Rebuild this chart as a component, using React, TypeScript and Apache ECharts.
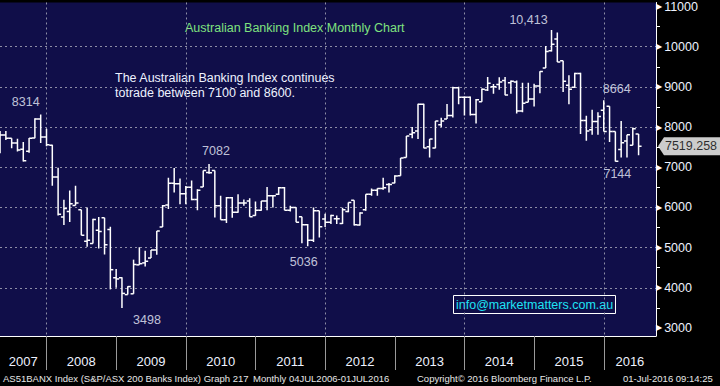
import React, { useEffect, useRef } from 'react';
import * as echarts from 'echarts';

// Months are counted from Jan 2007 (= 0); first bar is May 2007.
const FIRST_MONTH = 4;

const opens = [
  7850, 7800, 7720, 7600, 7450, 7400, 7730, 8200, 7750, 7550,
  6760, 5760, 5900, 6050, 5940, 5160, 5100, 5430, 5740, 5450,
  4250, 4250, 3830, 3850, 4570, 4620, 4740, 4940, 5510, 6060,
  6600, 6590, 6340, 6500, 6200, 6510, 6870, 6920, 6040, 5690,
  6240, 5880, 6110, 6160, 5800, 5930, 6160, 6290, 6330, 6490,
  5930, 6000, 5770, 5570, 5180, 5920, 5710, 5630, 5720, 5600,
  5900, 6180, 5560, 5940, 6330, 6430, 6470, 6570, 6610, 6790,
  7240, 7820, 7900, 8570, 7510, 7480, 8060, 8200, 8290, 8980,
  8740, 8740, 8310, 8630, 8920, 9000, 9060, 9160, 9100, 9120,
  8400, 8620, 8700, 9020, 9470, 9900, 10190, 9650, 9040, 8990,
  9330, 8160, 7930, 8140, 8420, 8520, 7890, 7440, 7650, 7550,
  7830,
];
const highs = [
  7900, 7900, 7720, 7710, 7630, 7730, 8220, 8314, 7960, 7560,
  6990, 6190, 6420, 6540, 5940, 6000, 5720, 5760, 5740, 5520,
  4470, 4260, 4040, 4700, 5010, 4920, 4940, 5410, 6060, 6740,
  6980, 6720, 6530, 6670, 6450, 6920, 7082, 6920, 6290, 6260,
  6260, 6330, 6200, 6230, 6150, 6160, 6510, 6310, 6510, 6510,
  6040, 6000, 5770, 5590, 6000, 5920, 5840, 5820, 5800, 5990,
  6125, 6180, 5880, 6330, 6470, 6480, 6740, 6610, 6800, 7230,
  7780, 8000, 8580, 8580, 7700, 8150, 8230, 8575, 9000, 9000,
  8760, 8760, 8700, 8960, 9245, 9070, 9240, 9245, 9160, 9160,
  9100, 9100, 9080, 9390, 10020, 10413, 10350, 9650, 9290, 9350,
  9350, 8280, 8430, 8370, 8664, 8520, 7890, 8150, 7810, 7990,
  7830,
];
const lows = [
  7350, 7680, 7470, 7390, 7140, 7360, 7720, 7600, 7520, 6540,
  5800, 5560, 5640, 6050, 5310, 5020, 5100, 4980, 4830, 3960,
  4000, 3498, 3830, 3850, 4570, 4530, 4740, 4820, 5510, 5960,
  6370, 6080, 6080, 6180, 5930, 6510, 6840, 5750, 5690, 5610,
  5740, 5870, 6040, 5770, 5790, 5920, 5930, 6000, 6310, 5930,
  5900, 5630, 5110, 5036, 5140, 5250, 5510, 5590, 5590, 5590,
  5880, 5550, 5550, 5920, 6290, 6290, 6440, 6370, 6600, 6790,
  7240, 7720, 7700, 7470, 7240, 7470, 8000, 8200, 8240, 8570,
  8290, 8290, 8090, 8630, 8900, 8830, 8930, 8790, 8830, 8340,
  8370, 8620, 8510, 8840, 9470, 9880, 9620, 8870, 8570, 8970,
  7830, 7660, 7810, 7810, 7890, 7630, 7144, 7240, 7240, 7550,
  7300,
];
const closes = [
  7800, 7720, 7600, 7430, 7160, 7720, 8200, 7750, 7560, 6760,
  5830, 5970, 6090, 6110, 5310, 5180, 5700, 5400, 5070, 4450,
  4220, 3860, 4030, 4580, 4600, 4660, 4940, 5410, 6040, 6600,
  6590, 6340, 6500, 6200, 6430, 6920, 6860, 6040, 5690, 6240,
  5880, 6110, 6110, 5770, 5930, 6160, 6290, 6290, 6490, 5930,
  6000, 5630, 5570, 5180, 5920, 5520, 5630, 5800, 5720, 5940,
  6120, 5570, 5860, 6330, 6430, 6470, 6490, 6570, 6780, 7230,
  7780, 7860, 8570, 7480, 7700, 8150, 8150, 8290, 8980, 8740,
  8740, 8310, 8680, 8940, 9090, 9000, 9120, 8800, 9140, 8400,
  8590, 8700, 9020, 9380, 9880, 10060, 9620, 9140, 8940, 9330,
  8160, 7900, 8140, 8260, 7890, 7890, 7150, 7610, 7810, 7960,
  7519.258,
];

// x axis (months since Jan 2007)
const X_MIN = 3.99;
const X_MAX = 117;
const yearStarts = [12, 24, 36, 48, 60, 72, 84, 96, 108];
const gridYearStarts = [12, 36, 60, 84, 108];
const yearLabels = ['2007', '2008', '2009', '2010', '2011', '2012', '2013', '2014', '2015', '2016'];
const yearLabelPos = [8, 18, 30, 42, 54, 66, 78, 90, 102, 112.5];

// y axis
const Y_MIN = 2800;
const Y_MAX = 11100;
const yMajor = [3000, 4000, 5000, 6000, 7000, 8000, 9000, 10000, 11000];
const yMinor = [3500, 4500, 5500, 6500, 7500, 8500, 9500, 10500];

// annotations of extremes
const annotText = ['8314', '7082', '5036', '3498', '10,413', '8664', '7144'];
const annotBar = [7, 36, 53, 21, 95, 104, 106];
const annotKind = ['high', 'high', 'low', 'low', 'high', 'high', 'low'];

const NAVY = '#100e49';
const FONT = '"Liberation Sans", Arial, sans-serif';
const TXT = '#eef2ff';

export default function App() {
  const ref = useRef<HTMLDivElement>(null);

  useEffect(() => {
    if (!ref.current) return;
    const chart = echarts.init(ref.current, undefined, { renderer: 'svg' });

    const ohlc = opens.map((o, i) => [FIRST_MONTH + i, o, highs[i], lows[i], closes[i]]);
    const annotOffsets: number[][] = [[-15, 0], [7, -1], [-4, 4], [25, 0], [-23, 2], [13, 1], [2, 1]];
    const annotData = annotBar.map((b, k) => ({
      value: [FIRST_MONTH + b, annotKind[k] === 'high' ? highs[b] : lows[b]],
      label: {
        show: true,
        position: annotKind[k] === 'high' ? 'top' : 'bottom',
        distance: 5,
        offset: annotOffsets[k],
        formatter: annotText[k],
      },
    }));
    const last = closes[closes.length - 1];

    const gridLine = { show: true, lineStyle: { color: '#8e8ea6', type: [2, 3], width: 1 } };

    chart.setOption({
      animation: false,
      backgroundColor: '#000',
      grid: { left: 0, top: 0, right: 64, bottom: 50, show: true, backgroundColor: NAVY, borderWidth: 0 },
      xAxis: [
        {
          type: 'value', min: X_MIN, max: X_MAX, position: 'bottom',
          axisLine: { show: true, lineStyle: { color: '#ffffff', width: 1 } },
          axisTick: { show: false, customValues: gridYearStarts },
          splitLine: gridLine,
          axisLabel: {
            show: true,
            customValues: yearLabelPos,
            margin: 19,
            color: TXT,
            fontSize: 13,
            fontFamily: FONT,
            formatter: (v: number) => {
              let best = 0;
              yearLabelPos.forEach((p, i) => { if (Math.abs(p - v) < Math.abs(yearLabelPos[best] - v)) best = i; });
              return yearLabels[best];
            },
          },
        },
        {
          type: 'value', min: X_MIN, max: X_MAX, position: 'bottom',
          axisLine: { show: false },
          axisTick: { show: true, customValues: yearStarts, length: 34, lineStyle: { color: '#9a9a9a', width: 1 } },
          axisLabel: { show: false },
          splitLine: { show: false },
        },
      ],
      yAxis: [
        {
          type: 'value', min: Y_MIN, max: Y_MAX, position: 'right',
          axisLine: { show: true, lineStyle: { color: '#ffffff', width: 1 } },
          axisTick: { show: false, customValues: yMajor },
          splitLine: { ...gridLine, showMinLine: false, showMaxLine: false },
          axisLabel: {
            show: true,
            customValues: yMajor,
            margin: 0,
            formatter: (v: number) => `{t|▶}{v|${v}}`,
            rich: {
              t: { fontSize: 8, color: '#ffffff', fontFamily: '"DejaVu Sans"', padding: [0, 2, 0, 0] },
              v: { fontSize: 12.5, color: TXT, fontFamily: FONT },
            },
          },
        },
        {
          type: 'value', min: Y_MIN, max: Y_MAX, position: 'right',
          axisLine: { show: false },
          axisTick: { show: true, customValues: yMinor, length: 4, lineStyle: { color: '#ffffff', width: 1 } },
          axisLabel: { show: false },
          splitLine: { show: false },
        },
      ],
      series: [
        {
          type: 'custom',
          xAxisIndex: 0,
          yAxisIndex: 0,
          clip: true,
          encode: { x: 0, y: [1, 2, 3, 4] },
          data: ohlc,
          renderItem: (_params: any, api: any) => {
            const x = api.value(0);
            const pO = api.coord([x, api.value(1)]);
            const pH = api.coord([x, api.value(2)]);
            const pL = api.coord([x, api.value(3)]);
            const pC = api.coord([x, api.value(4)]);
            const tick = 3;
            const st = { stroke: '#ffffff', lineWidth: 1.5 };
            return {
              type: 'group',
              children: [
                { type: 'line', shape: { x1: pH[0], y1: pH[1], x2: pL[0], y2: pL[1] }, style: st },
                { type: 'line', shape: { x1: pO[0] - tick, y1: pO[1], x2: pO[0], y2: pO[1] }, style: st },
                { type: 'line', shape: { x1: pC[0], y1: pC[1], x2: pC[0] + tick, y2: pC[1] }, style: st },
              ],
            };
          },
        },
        {
          type: 'scatter',
          xAxisIndex: 0,
          yAxisIndex: 0,
          clip: false,
          silent: true,
          symbolSize: 1,
          itemStyle: { color: 'transparent' },
          label: { color: TXT, fontSize: 12.5, fontFamily: FONT },
          data: annotData,
          z: 5,
        },
        {
          type: 'scatter',
          xAxisIndex: 0,
          yAxisIndex: 0,
          clip: false,
          silent: true,
          symbol: 'path://M0,9L6,0L62,0L62,18L6,18Z',
          symbolSize: [62, 18],
          symbolKeepAspect: false,
          symbolOffset: [33, 0],
          itemStyle: { color: '#ffffff' },
          label: {
            show: true,
            position: 'inside',
            offset: [2, 0],
            color: '#000000',
            fontSize: 12.5,
            fontFamily: FONT,
            formatter: (p: any) => Number(p.value[1]).toFixed(3),
          },
          data: [[X_MAX, last]],
          z: 10,
        },
      ],
      graphic: [
        { type: 'text', x: 185, y: 28, style: { text: 'Australian Banking Index Monthly Chart', fill: '#7fe27f', fontSize: 12.5, fontFamily: FONT, verticalAlign: 'middle' } },
        { type: 'text', x: 115, y: 77.5, style: { text: 'The Australian Banking Index continues', fill: TXT, fontSize: 12.5, fontFamily: FONT, verticalAlign: 'middle' } },
        { type: 'text', x: 115, y: 92.5, style: { text: 'totrade between 7100 and 8600.', fill: TXT, fontSize: 12.5, fontFamily: FONT, verticalAlign: 'middle' } },
        { type: 'rect', shape: { x: 453.5, y: 295.5, width: 162, height: 18 }, style: { fill: 'none', stroke: '#ffffff', lineWidth: 1 } },
        { type: 'text', x: 456, y: 304.5, style: { text: 'info@marketmatters.com.au', fill: '#1ee4f4', fontSize: 12.5, fontFamily: FONT, verticalAlign: 'middle' } },
        { type: 'text', x: 3, y: 378, style: { text: 'AS51BANX Index (S&P/ASX 200 Banks Index) Graph 217', fill: '#e8e8e8', fontSize: 9.5, fontFamily: FONT, verticalAlign: 'middle' } },
        { type: 'text', x: 253, y: 378, style: { text: 'Monthly 04JUL2006-01JUL2016', fill: '#e8e8e8', fontSize: 9.5, fontFamily: FONT, verticalAlign: 'middle' } },
        { type: 'text', x: 417, y: 378, style: { text: 'Copyright© 2016 Bloomberg Finance L.P.', fill: '#e8e8e8', fontSize: 9.5, fontFamily: FONT, verticalAlign: 'middle' } },
        { type: 'text', x: 623, y: 378, style: { text: '01-Jul-2016 09:14:25', fill: '#e8e8e8', fontSize: 9.5, fontFamily: FONT, verticalAlign: 'middle' } },
      ],
    });

    return () => chart.dispose();
  }, []);

  return <div ref={ref} style={{ position: 'fixed', left: 0, top: 0, width: 720, height: 386 }} />;
}
